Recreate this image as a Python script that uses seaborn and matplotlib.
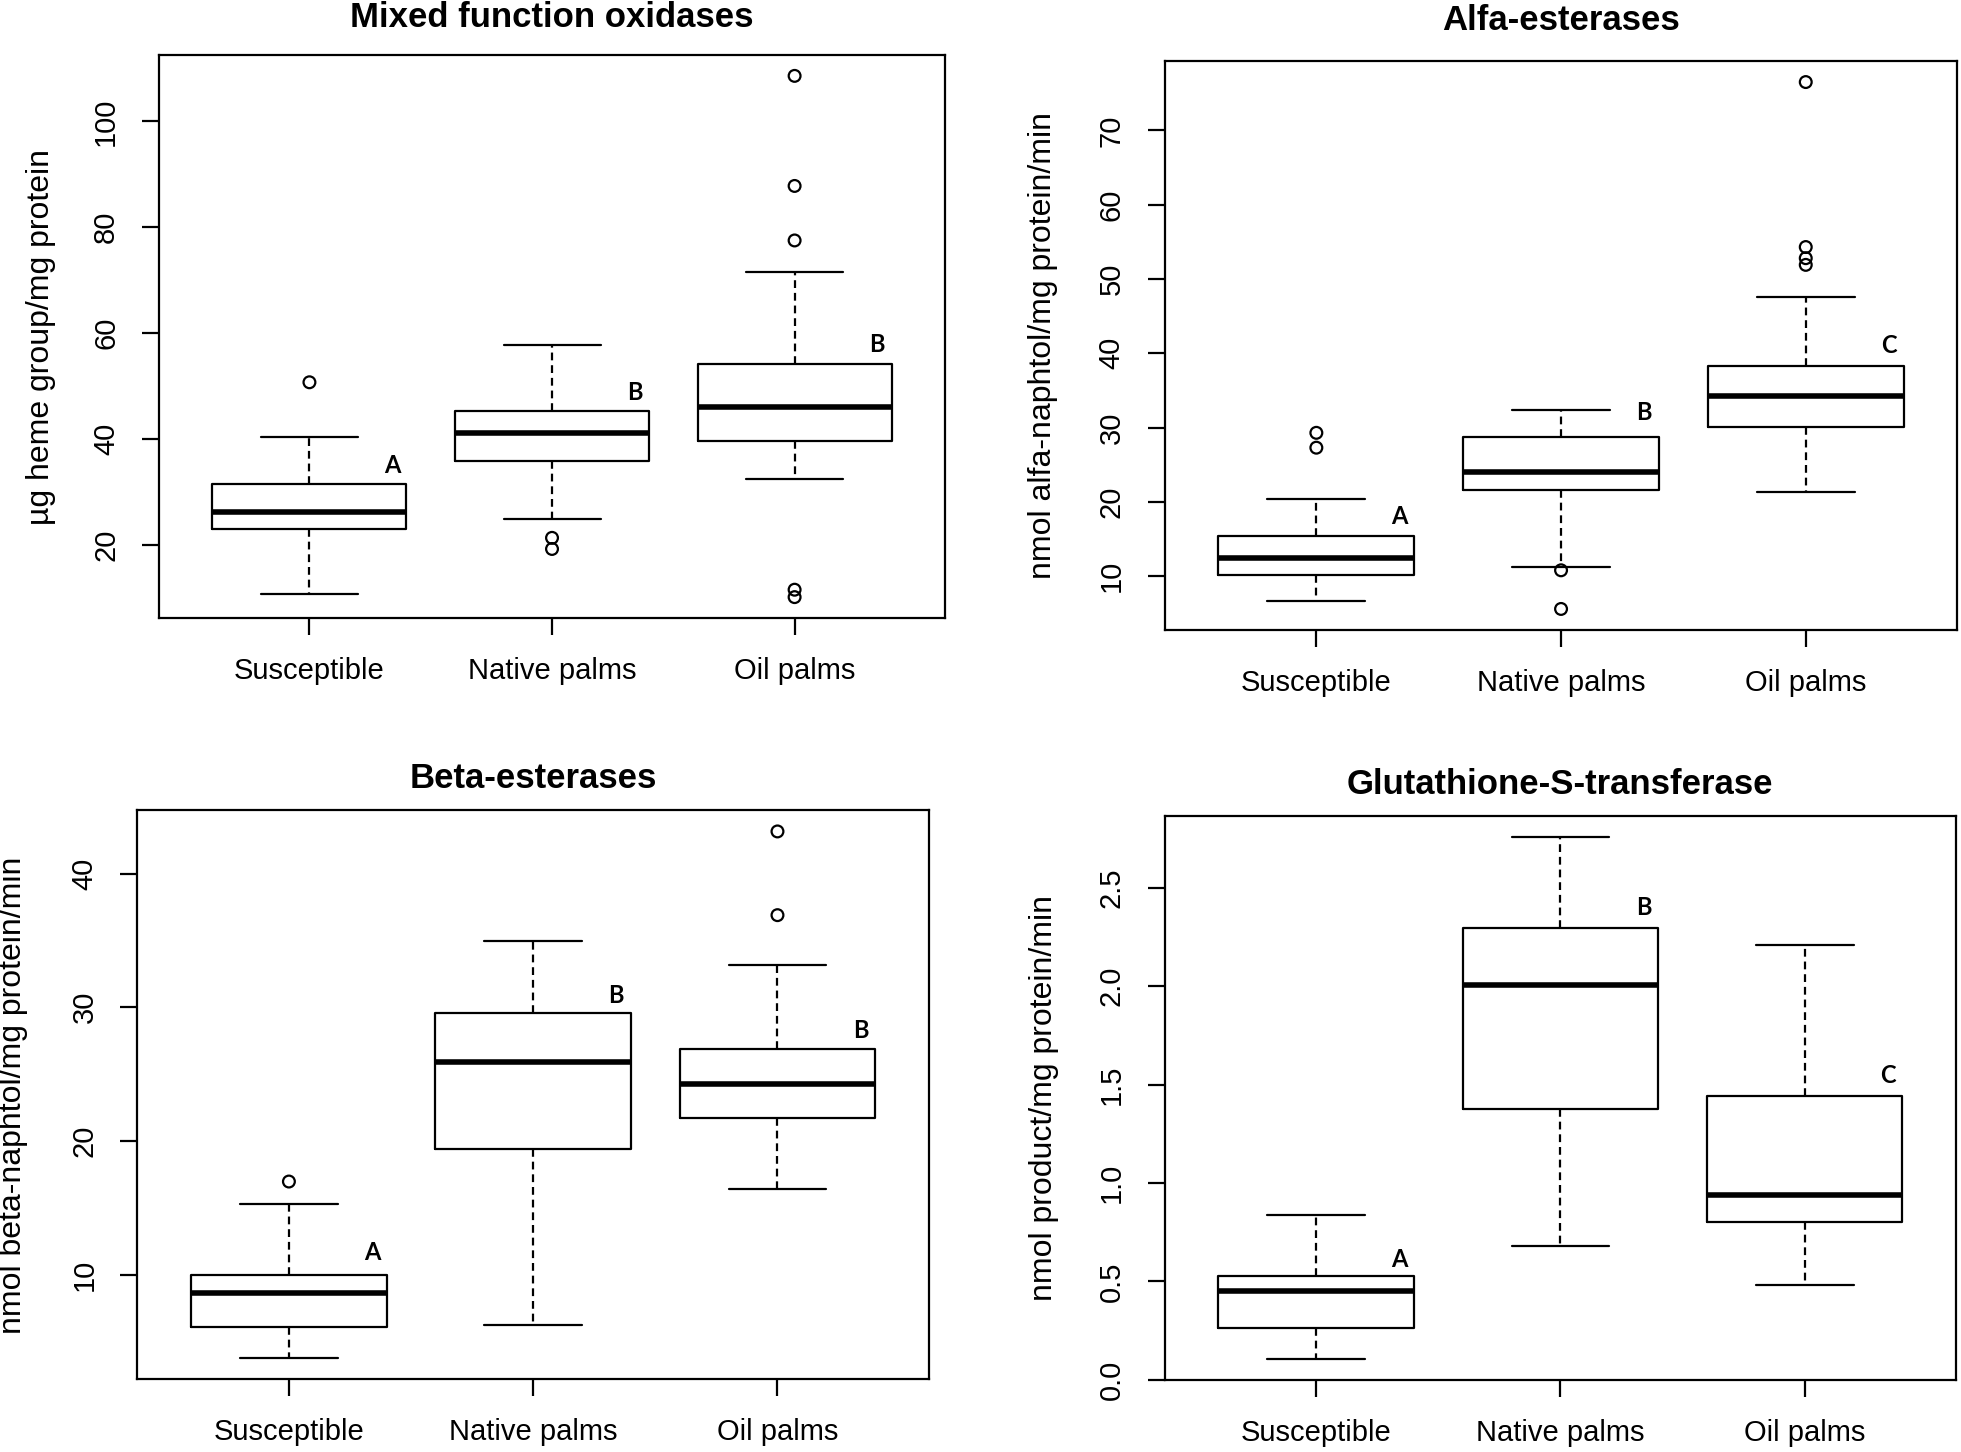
import numpy as np
import pandas as pd
import matplotlib
matplotlib.use("Agg")
import matplotlib.pyplot as plt
import seaborn as sns

groups = ["Susceptible", "Native palms", "Oil palms"]

# Résumés : moustache basse, Q1, médiane, Q3, moustache haute
mfo_low = [10.6, 24.8, 32.4]
mfo_q1 = [23.0, 35.9, 39.6]
mfo_med = [26.2, 41.2, 46.0]
mfo_q3 = [31.4, 45.2, 54.2]
mfo_high = [40.3, 57.7, 71.6]
mfo_out = [[50.7], [21.3, 19.2], [108.6, 87.8, 77.5, 11.5, 10.1]]
mfo_letters = ["A", "B", "B"]
mfo_letter_y = [35.0, 48.8, 57.8]

alfa_low = [6.7, 11.2, 21.4]
alfa_q1 = [10.2, 21.6, 30.1]
alfa_med = [12.5, 24.0, 34.2]
alfa_q3 = [15.4, 28.8, 38.3]
alfa_high = [20.4, 32.4, 47.6]
alfa_out = [[29.3, 27.3], [10.8, 5.6], [76.5, 54.3, 52.8, 51.9]]
alfa_letters = ["A", "B", "C"]
alfa_letter_y = [18.1, 32.1, 41.0]

beta_low = [3.75, 6.24, 16.39]
beta_q1 = [6.1, 19.43, 21.69]
beta_med = [8.63, 25.92, 24.28]
beta_q3 = [10.0, 29.54, 26.91]
beta_high = [15.26, 34.98, 33.17]
beta_out = [[16.97], [], [43.15, 36.89]]
beta_letters = ["A", "B", "B"]
beta_letter_y = [11.64, 30.9, 28.3]

gst_low = [0.105, 0.679, 0.481]
gst_q1 = [0.265, 1.378, 0.801]
gst_med = [0.453, 2.004, 0.938]
gst_q3 = [0.528, 2.293, 1.443]
gst_high = [0.835, 2.758, 2.21]
gst_out = [[], [], []]
gst_letters = ["A", "B", "C"]
gst_letter_y = [0.61, 2.397, 1.547]

sns.set_style("ticks", {"axes.edgecolor": "black", "xtick.color": "black",
                        "ytick.color": "black", "text.color": "black",
                        "axes.labelcolor": "black"})
plt.rcParams['font.family'] = ['Liberation Sans', 'DejaVu Sans']

fig = plt.figure(figsize=(19.61, 14.52), dpi=100)

panels = [
    dict(title="Mixed function oxidases", ylabel="µg heme group/mg protein",
         low=mfo_low, q1=mfo_q1, med=mfo_med, q3=mfo_q3, high=mfo_high, out=mfo_out,
         letters=mfo_letters, letter_y=mfo_letter_y,
         yticks=[20, 40, 60, 80, 100], fmt="{:.0f}",
         rect=[0.0811, 0.5744, 0.4008, 0.3877], pad=20, lab_x=-0.131),
    dict(title="Alfa-esterases", ylabel="nmol alfa-naphtol/mg protein/min",
         low=alfa_low, q1=alfa_q1, med=alfa_med, q3=alfa_q3, high=alfa_high, out=alfa_out,
         letters=alfa_letters, letter_y=alfa_letter_y,
         yticks=[10, 20, 30, 40, 50, 60, 70], fmt="{:.0f}",
         rect=[0.5939, 0.5661, 0.4043, 0.3919], pad=22, lab_x=-0.134),
    dict(title="Beta-esterases", ylabel="nmol beta-naphtol/mg protein/min",
         low=beta_low, q1=beta_q1, med=beta_med, q3=beta_q3, high=beta_high, out=beta_out,
         letters=beta_letters, letter_y=beta_letter_y,
         yticks=[10, 20, 30, 40], fmt="{:.0f}",
         rect=[0.0701, 0.0500, 0.4036, 0.3919], pad=16, lab_x=-0.138),
    dict(title="Glutathione-S-transferase", ylabel="nmol product/mg protein/min",
         low=gst_low, q1=gst_q1, med=gst_med, q3=gst_q3, high=gst_high, out=gst_out,
         letters=gst_letters, letter_y=gst_letter_y,
         yticks=[0.0, 0.5, 1.0, 1.5, 2.0, 2.5], fmt="{:.1f}",
         rect=[0.5939, 0.0496, 0.4036, 0.3884], pad=16, lab_x=-0.134),
]

lw = 1.6
for p in panels:
    ax = fig.add_axes(p["rect"])

    stats = []
    for i in range(len(groups)):
        stats.append({"whislo": p["low"][i], "q1": p["q1"][i], "med": p["med"][i],
                      "q3": p["q3"][i], "whishi": p["high"][i], "fliers": []})
    ax.bxp(stats, positions=range(len(groups)), widths=0.8, capwidths=0.4,
           showfliers=False,
           boxprops=dict(color="black", linewidth=lw),
           medianprops=dict(color="black", linewidth=4.0, solid_capstyle="butt"),
           whiskerprops=dict(color="black", linewidth=lw, linestyle=(0, (3.5, 2.2))),
           capprops=dict(color="black", linewidth=lw))

    # Valeurs aberrantes
    out_df = pd.DataFrame({
        "pos": [i for i, vals in enumerate(p["out"]) for _ in vals],
        "value": [v for vals in p["out"] for v in vals],
    })
    if len(out_df):
        sns.scatterplot(data=out_df, x="pos", y="value", ax=ax, s=72, marker="o",
                        facecolor="none", edgecolor="black", linewidth=1.6,
                        legend=False, zorder=5)

    # Lettres de significativité
    for i, (letter, y) in enumerate(zip(p["letters"], p["letter_y"])):
        ax.text(i + 0.34, y, letter, ha="center", va="center", fontsize=17,
                fontweight="bold", family=["Lato", "DejaVu Sans"])

    all_vals = p["low"] + p["high"] + [v for vals in p["out"] for v in vals]
    vmin, vmax = min(all_vals), max(all_vals)
    span = vmax - vmin
    ax.set_ylim(vmin - 0.04 * span, vmax + 0.04 * span)
    ax.set_xlim(-0.62, 2.62)

    ax.set_xticks(range(len(groups)), labels=groups)
    ax.set_yticks(p["yticks"], labels=[p["fmt"].format(t) for t in p["yticks"]])
    ax.tick_params(axis="both", direction="out", length=12, width=lw,
                   labelsize=21, pad=16, top=False, right=False)
    for lab in ax.get_yticklabels():
        lab.set_rotation(90)
        lab.set_va("center")

    for sp in ax.spines.values():
        sp.set_visible(True)
        sp.set_linewidth(lw)
        sp.set_color("black")

    ax.set_xlabel("")
    ax.set_ylabel(p["ylabel"], fontsize=23)
    ax.yaxis.set_label_coords(p["lab_x"], 0.5)
    ax.set_title(p["title"], fontsize=25, fontweight="bold", pad=p["pad"])

fig.savefig("out.png", dpi=100, facecolor="white")
plt.close(fig)
